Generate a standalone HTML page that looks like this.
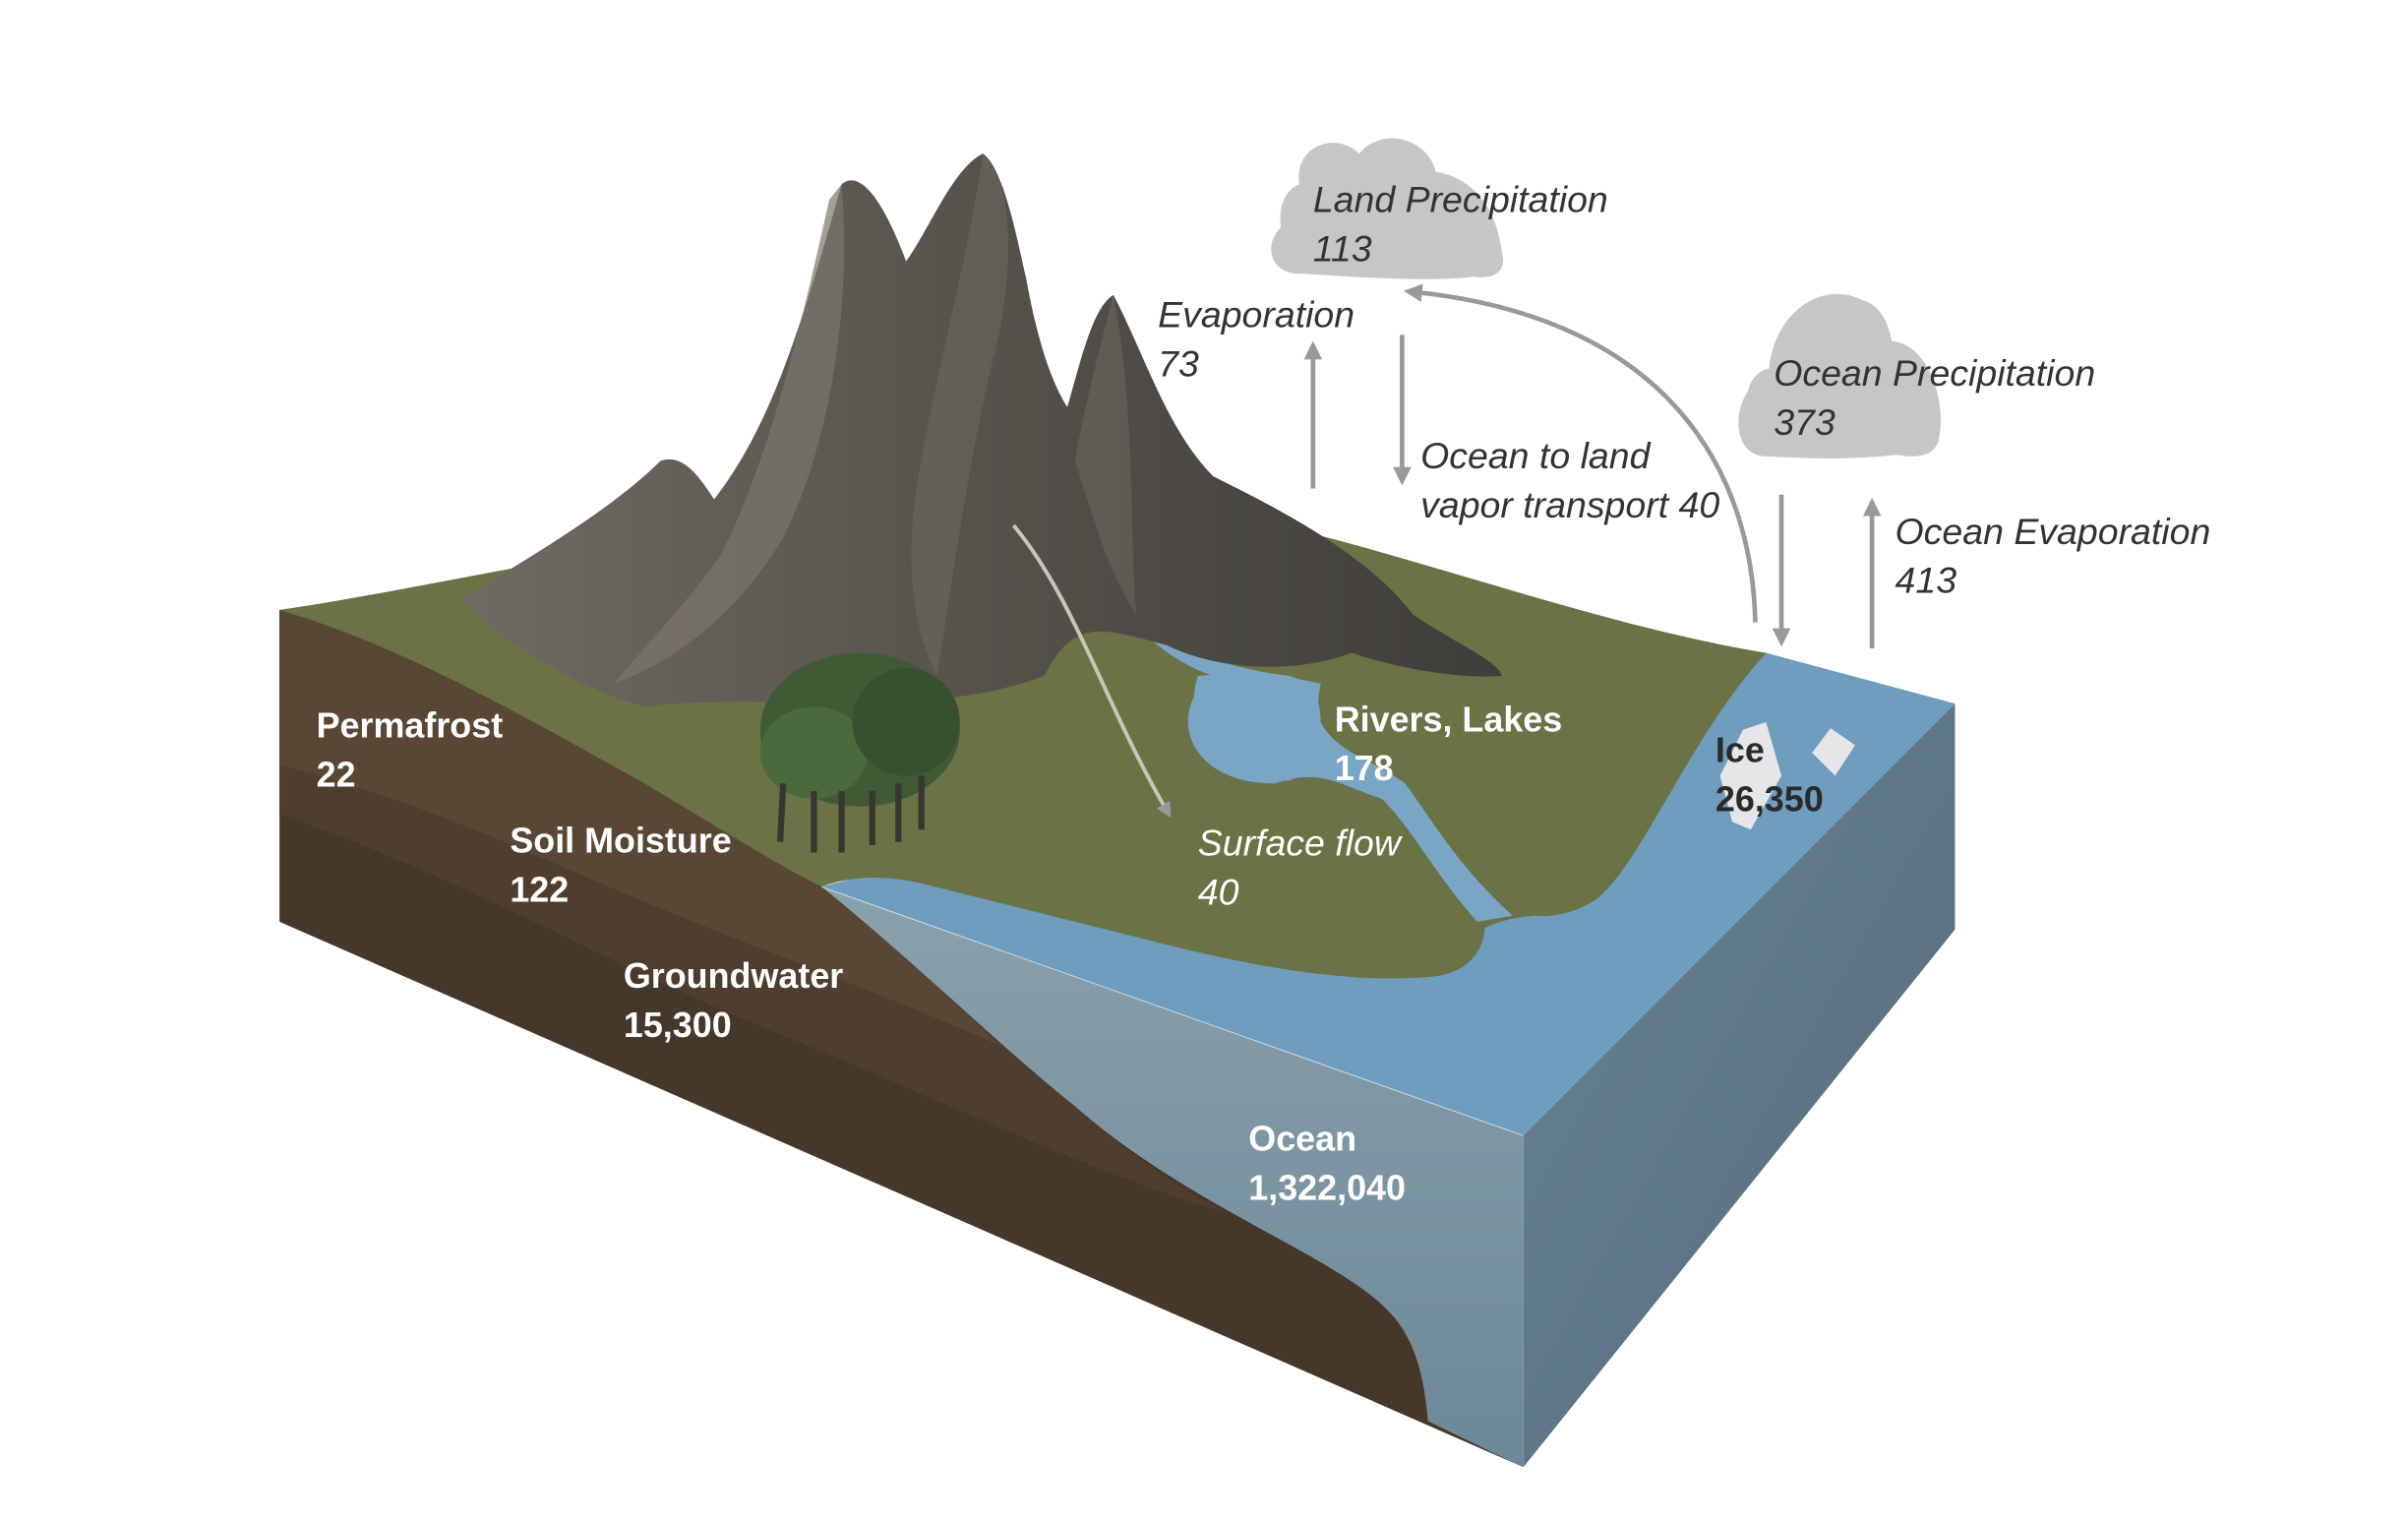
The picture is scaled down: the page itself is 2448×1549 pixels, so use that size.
<!DOCTYPE html>
<html><head><meta charset="utf-8"><style>
html,body{margin:0;padding:0;background:#fff;}
svg{display:block;}
text{font-family:"Liberation Sans",sans-serif;}
.it{font-style:italic;fill:#333;font-size:24px;}
.bw{font-weight:bold;fill:#fff;font-size:23px;}
</style></head><body>
<svg width="2448" height="1549" viewBox="0 0 1568 992" preserveAspectRatio="none" xmlns="http://www.w3.org/2000/svg">
<defs>
<linearGradient id="rf" x1="0" y1="0" x2="1" y2="1"><stop offset="0" stop-color="#6a8494"/><stop offset="1" stop-color="#536a7a"/></linearGradient>
<linearGradient id="of" x1="0" y1="0" x2="0" y2="1"><stop offset="0" stop-color="#8aa1ae"/><stop offset="1" stop-color="#6d8797"/></linearGradient>
<linearGradient id="mt" x1="0" y1="0" x2="1" y2="0"><stop offset="0" stop-color="#6f6a62"/><stop offset="0.5" stop-color="#55524c"/><stop offset="1" stop-color="#3f3d39"/></linearGradient>
<marker id="ah" viewBox="0 0 10 10" refX="5" refY="5" markerWidth="4" markerHeight="4" orient="auto"><path d="M0,0 L10,5 L0,10 z" fill="#999"/></marker>
</defs>
<!-- right face -->
<polygon points="992,739 1273,458 1273,605 992,955" fill="url(#rf)"/>
<!-- front face soil base -->
<path d="M182,397 C260,420 330,460 420,510 C470,540 510,565 535,577 C600,630 650,680 700,720 C780,790 880,820 910,860 C925,880 928,905 930,925 L992,955 L182,600 Z" fill="#45372a"/>
<path d="M182,397 C260,420 330,460 420,510 C470,540 510,565 535,577 C600,630 650,680 700,720 C740,755 770,775 800,790 C700,760 600,710 500,670 C400,630 300,570 182,530 Z" fill="#4f3e2e"/>
<path d="M182,397 C260,420 330,460 420,510 C470,540 510,565 535,577 C580,615 620,650 650,680 C560,640 470,610 380,570 C300,535 240,512 182,498 Z" fill="#5a4634"/>
<!-- ocean front face -->
<path d="M535,577 C600,630 650,680 700,720 C780,790 880,820 910,860 C925,880 928,905 930,925 L992,955 L992,739 Z" fill="url(#of)"/>
<line x1="535" y1="577" x2="992" y2="739" stroke="#dfe8ee" stroke-width="1"/>
<!-- top surface water -->
<polygon points="535,577 1150,425 1273,458 992,739" fill="#6f9dbd"/>
<!-- land top -->
<path d="M182,397 C300,380 500,330 700,320 C850,330 1000,400 1150,425 C1100,480 1070,560 1040,585 C1025,595 1010,597 1000,596 C985,597 975,600 967,604 C965,625 950,635 929,636 C880,640 820,630 760,615 C700,600 640,585 600,575 C570,568 550,572 535,577 C510,565 470,540 420,510 C330,460 260,420 182,397 Z" fill="#6a7246"/>
<!-- lake & river -->
<path d="M690,265 L700,340 C720,400 760,430 790,440 C760,460 770,510 830,510 C860,500 870,510 900,520 C920,540 935,570 962,600 L985,596 C950,565 930,530 915,510 C895,495 870,490 860,470 C860,455 855,445 840,440 C800,435 770,425 740,400 C710,370 700,320 695,265 Z" fill="#7aa6c6"/>
<path d="M780,440 C770,470 790,510 840,508 C860,500 855,470 860,445 C830,438 800,438 780,440 Z" fill="#7aa6c6"/>
<!-- mountains -->
<path d="M300,390 C350,360 400,330 430,300 C445,295 455,310 465,325 C500,280 520,220 548,120 C560,110 575,130 590,170 C605,150 620,110 640,100 C655,110 665,170 668,180 C675,220 685,250 695,265 C705,230 712,200 725,192 C745,230 760,280 790,310 C830,330 890,360 920,400 C950,420 975,430 978,440 C950,442 910,435 880,425 C840,440 790,435 760,420 C720,410 700,400 680,440 C600,470 500,450 420,460 C380,450 330,420 300,390 Z" fill="url(#mt)"/>
<path d="M540,130 C520,220 500,300 470,360 C450,390 420,420 400,445 C440,430 480,400 510,350 C540,290 555,200 548,120 Z" fill="#7a756c" opacity="0.7"/>
<path d="M640,100 C630,170 610,240 600,300 C590,350 590,400 610,440 C620,380 630,300 650,220 C660,170 660,120 640,100 Z" fill="#6d685f" opacity="0.6"/>
<path d="M725,192 C715,230 705,270 700,300 C710,330 720,370 740,400 C735,350 740,270 725,192 Z" fill="#6a665e" opacity="0.6"/>
<!-- tree -->
<g>
<ellipse cx="560" cy="475" rx="65" ry="50" fill="#3f5a35"/>
<ellipse cx="530" cy="490" rx="35" ry="30" fill="#4a6a3e"/>
<ellipse cx="590" cy="470" rx="35" ry="35" fill="#37502f"/>
<g stroke="#3a3530" stroke-width="4"><line x1="510" y1="510" x2="508" y2="548"/><line x1="530" y1="515" x2="530" y2="555"/><line x1="548" y1="515" x2="548" y2="555"/><line x1="568" y1="515" x2="568" y2="550"/><line x1="585" y1="510" x2="585" y2="548"/><line x1="600" y1="505" x2="600" y2="540"/></g>
</g>
<!-- surface flow arrow -->
<path d="M660,342 C700,390 720,460 760,528" fill="none" stroke="#c8c6bc" stroke-width="2.5" marker-end="url(#ah)"/>
<!-- ice -->
<polygon points="1135,475 1150,470 1160,505 1140,540 1128,535 1120,505" fill="#e6e6e8"/>
<polygon points="1180,490 1192,474 1208,485 1195,505" fill="#e6e6e8"/>
<!-- clouds -->
<path d="M845,178 C828,178 822,160 834,148 C832,130 840,122 846,120 C842,95 870,85 885,100 C900,82 930,90 935,112 C958,115 975,135 978,165 C982,178 970,182 960,180 C930,184 880,180 845,178 Z" fill="#c6c6c6"/>
<path d="M1148,297 C1130,295 1128,270 1138,255 C1140,245 1148,240 1152,240 C1155,205 1185,182 1212,195 C1228,200 1230,215 1232,222 C1258,225 1268,265 1262,288 C1258,298 1245,298 1235,296 C1200,300 1175,298 1148,297 Z" fill="#c6c6c6"/>
<!-- arrows -->
<g stroke="#999" stroke-width="3" fill="none">
<line x1="855" y1="318" x2="855" y2="228" marker-end="url(#ah)"/>
<line x1="913" y1="218" x2="913" y2="310" marker-end="url(#ah)"/>
<line x1="1160" y1="322" x2="1160" y2="415" marker-end="url(#ah)"/>
<line x1="1219" y1="422" x2="1219" y2="330" marker-end="url(#ah)"/>
<path d="M1143,405 C1140,290 1070,205 920,190" marker-end="url(#ah)"/>
</g>
<!-- labels -->
<text class="it" x="855" y="138">Land Precipitation</text>
<text class="it" x="855" y="170">113</text>
<text class="it" x="754" y="213">Evaporation</text>
<text class="it" x="754" y="245">73</text>
<text class="it" x="925" y="305">Ocean to land</text>
<text class="it" x="925" y="337">vapor transport 40</text>
<text class="it" x="1155" y="251">Ocean Precipitation</text>
<text class="it" x="1155" y="283">373</text>
<text class="it" x="1234" y="354">Ocean Evaporation</text>
<text class="it" x="1234" y="386">413</text>
<text class="bw" x="206" y="480">Permafrost</text>
<text class="bw" x="206" y="512">22</text>
<text class="bw" x="332" y="555">Soil Moisture</text>
<text class="bw" x="332" y="587">122</text>
<text class="bw" x="406" y="643">Groundwater</text>
<text class="bw" x="406" y="675">15,300</text>
<text class="bw" x="869" y="476">Rivers, Lakes</text>
<text class="bw" x="869" y="508">178</text>
<text class="bw" x="1117" y="496" style="fill:#2a2a2a">Ice</text>
<text class="bw" x="1117" y="528" style="fill:#2a2a2a">26,350</text>
<text class="it" x="780" y="557" style="fill:#fff">Surface flow</text>
<text class="it" x="780" y="589" style="fill:#fff">40</text>
<text class="bw" x="813" y="749">Ocean</text>
<text class="bw" x="813" y="781">1,322,040</text>
</svg>
</body></html>
